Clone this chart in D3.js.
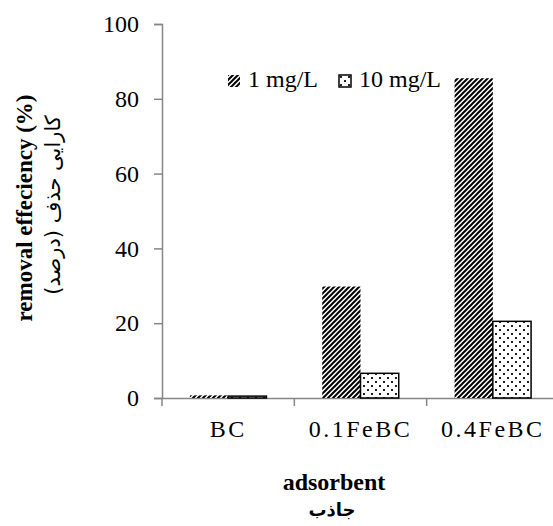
<!DOCTYPE html>
<html>
<head>
<meta charset="utf-8">
<script src="https://cdn.jsdelivr.net/npm/d3@7"></script>
<style>
  body { margin: 0; background: #fff; }
  svg text { font-family: "Liberation Serif", "Times New Roman", serif; fill: #000; }
  svg text.fa { font-family: "DejaVu Sans", sans-serif; }
  .axis path, .axis line { stroke: #868686; stroke-width: 1.5; }
</style>
</head>
<body>
<svg id="chart" width="553" height="526"></svg>
<script>
// chart data
var categories = ["BC", "0.1FeBC", "0.4FeBC"];
var seriesNames = ["1 mg/L", "10 mg/L"];
var oneMgL = [0.7, 29.8, 85.5];
var tenMgL = [0.5, 6.6, 20.5];
var yTicks = [0, 20, 40, 60, 80, 100];

var series = [
  {key: seriesNames[0], values: oneMgL, fill: "url(#diag)", stroke: "none"},
  {key: seriesNames[1], values: tenMgL, fill: "url(#dots)", stroke: "#000"}
];

var svg = d3.select("#chart"),
    margin = {top: 24, left: 162, bottom: 128, right: -6},
    width = 553 - margin.left - margin.right,
    height = 526 - margin.top - margin.bottom;

// patterns for the two series
var defs = svg.append("defs");
var diag = defs.append("pattern")
    .attr("id", "diag")
    .attr("patternUnits", "userSpaceOnUse")
    .attr("width", 5).attr("height", 5);
diag.append("rect").attr("width", 5).attr("height", 5).attr("fill", "#fff");
diag.append("path")
    .attr("d", "M-1,1 l2,-2 M0,5 l5,-5 M4,6 l2,-2")
    .attr("stroke", "#000")
    .attr("stroke-width", 2);

var dots = defs.append("pattern")
    .attr("id", "dots")
    .attr("patternUnits", "userSpaceOnUse")
    .attr("width", 8).attr("height", 8);
dots.append("rect").attr("width", 8).attr("height", 8).attr("fill", "#fff");
dots.append("rect").attr("x", 1).attr("y", 1).attr("width", 2).attr("height", 2).attr("fill", "#222");
dots.append("rect").attr("x", 5).attr("y", 5).attr("width", 2).attr("height", 2).attr("fill", "#222");

var g = svg.append("g").attr("transform", "translate(" + margin.left + "," + margin.top + ")");

var x0 = d3.scaleBand().domain(categories).range([0, width]).padding(0);
var x1 = d3.scaleBand().domain(seriesNames).range([0, x0.bandwidth()])
    .paddingInner(0).paddingOuter(0.73);
var y = d3.scaleLinear().domain([0, 100]).range([height, 0]);

// y axis
var yAxis = g.append("g").attr("class", "axis")
    .call(d3.axisLeft(y).tickValues(yTicks).tickSize(8).tickPadding(15).tickSizeOuter(8));
yAxis.selectAll("text").attr("font-size", 24);

// x axis (labels centred, ticks at band edges)
var xAxis = g.append("g").attr("class", "axis")
    .attr("transform", "translate(0," + height + ")")
    .call(d3.axisBottom(x0).tickSize(0).tickPadding(22));
xAxis.selectAll("text")
    .attr("font-size", 24)
    .attr("letter-spacing", "2.5px");
var edges = categories.map(function(c) { return x0(c); }).concat([x0.range()[1]]);
xAxis.selectAll(".edge").data(edges).enter().append("line")
    .attr("class", "edge")
    .attr("x1", function(d) { return d; }).attr("x2", function(d) { return d; })
    .attr("y1", 0).attr("y2", 8);

// bars
var groups = g.selectAll(".series").data(series).enter().append("g").attr("class", "series");
groups.selectAll("rect")
    .data(function(s) { return s.values.map(function(v, i) { return {key: s.key, cat: categories[i], v: v, fill: s.fill, stroke: s.stroke}; }); })
    .enter().append("rect")
    .attr("x", function(d) { return x0(d.cat) + x1(d.key); })
    .attr("y", function(d) { return y(d.v); })
    .attr("width", x1.bandwidth())
    .attr("height", function(d) { return y(0) - y(d.v); })
    .attr("fill", function(d) { return d.fill; })
    .attr("stroke", function(d) { return d.stroke; })
    .attr("stroke-width", 1.5);

// legend
var legendX = [66, 177];
var legend = g.selectAll(".legend").data(series).enter().append("g")
    .attr("class", "legend")
    .attr("transform", function(d, i) { return "translate(" + legendX[i] + ",51)"; });
legend.append("rect")
    .attr("width", 12).attr("height", 12)
    .attr("fill", function(d) { return d.fill; })
    .attr("stroke", function(d) { return d.stroke === "none" ? "none" : "#000"; })
    .attr("stroke-width", 1.5);
legend.append("text")
    .attr("x", 20).attr("y", 12)
    .attr("font-size", 24)
    .text(function(d) { return d.key; });

// axis titles
svg.append("text")
    .attr("transform", "translate(32,208) rotate(-90)")
    .attr("text-anchor", "middle")
    .attr("font-size", 23)
    .attr("font-weight", "bold")
    .text("removal effeciency (%)");
svg.append("text")
    .attr("class", "fa")
    .attr("transform", "translate(60,205) rotate(-90)")
    .attr("text-anchor", "middle")
    .attr("font-size", 21)
    .attr("direction", "rtl")
    .text("کارایی حذف (درصد)");

svg.append("text")
    .attr("x", 334).attr("y", 490)
    .attr("text-anchor", "middle")
    .attr("font-size", 24)
    .attr("font-weight", "bold")
    .text("adsorbent");
svg.append("text")
    .attr("class", "fa")
    .attr("x", 332).attr("y", 516)
    .attr("text-anchor", "middle")
    .attr("font-size", 18)
    .attr("font-weight", "bold")
    .text("جاذب");
</script>
</body>
</html>
